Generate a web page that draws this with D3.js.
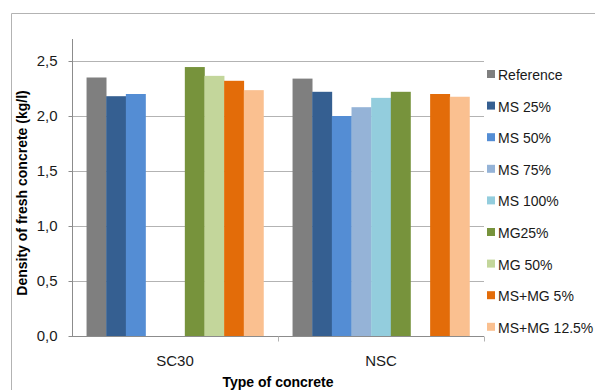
<!DOCTYPE html>
<html>
<head>
<meta charset="utf-8">
<script src="https://cdn.jsdelivr.net/npm/d3@7"></script>
<style>
  html, body { margin: 0; padding: 0; background: #fff; }
  svg { display: block; font-family: "Liberation Sans", Arial, sans-serif; }
</style>
</head>
<body>
<svg id="chart" width="595" height="390"></svg>
<script>
// Concrete types along the x axis
const categories = ["SC30", "NSC"];

// Mixes (one bar per mix in each concrete group)
const seriesNames = ["Reference", "MS 25%", "MS 50%", "MS 75%", "MS 100%", "MG25%", "MG 50%", "MS+MG 5%", "MS+MG 12.5%"];
const seriesColors = ["#7f7f7f", "#355f91", "#548dd4", "#95b3d7", "#93cddd", "#77933c", "#c3d69b", "#e36c09", "#fac090"];

// Fresh density in kg/l, per mix, for SC30 and NSC
const sc30Values = [2.35, 2.18, 2.20, 0, 0, 2.445, 2.365, 2.32, 2.235];
const nscValues  = [2.34, 2.22, 2.00, 2.08, 2.165, 2.22, 0, 2.20, 2.175];

const yTicks = [0, 0.5, 1.0, 1.5, 2.0, 2.5];
const yMax = 2.7;

const svg = d3.select("#chart");

// Outer chart frame
svg.append("path")
  .attr("d", "M11.5,390 L11.5,13.5 L595,13.5")
  .attr("fill", "none")
  .attr("stroke", "#b3b3b3")
  .attr("stroke-width", 1);

const plot = { left: 72, right: 484, top: 39, bottom: 336 };

const x0 = d3.scaleBand().domain(categories).range([plot.left, plot.right]).paddingInner(0).paddingOuter(0);
const x1 = d3.scaleBand().domain(seriesNames).range([0, x0.bandwidth()]).paddingOuter(0.74).paddingInner(0);
const y = d3.scaleLinear().domain([0, yMax]).range([plot.bottom, plot.top]);

const fmt = v => d3.format(".1f")(v).replace(".", ",");

// Horizontal gridlines
svg.append("g")
  .selectAll("line")
  .data(yTicks.filter(t => t > 0))
  .join("line")
  .attr("x1", plot.left).attr("x2", plot.right)
  .attr("y1", d => Math.round(y(d)) + 0.5).attr("y2", d => Math.round(y(d)) + 0.5)
  .attr("stroke", "#b3b3b3").attr("stroke-width", 1);

// Bars
const rows = categories.map((c, i) => ({ cat: c, vals: i === 0 ? sc30Values : nscValues }));
const groups = svg.append("g")
  .selectAll("g")
  .data(rows)
  .join("g")
  .attr("transform", d => `translate(${x0(d.cat)},0)`);

groups.selectAll("rect")
  .data(d => d.vals.map((v, j) => ({ name: seriesNames[j], value: v, color: seriesColors[j] })))
  .join("rect")
  .attr("x", d => x1(d.name))
  .attr("width", x1.bandwidth() + 0.3)
  .attr("y", d => y(d.value))
  .attr("height", d => y(0) - y(d.value))
  .attr("fill", d => d.color);

// Y axis
const yAxis = d3.axisLeft(y).tickValues(yTicks).tickFormat(fmt).tickSize(4).tickPadding(11);
const gy = svg.append("g")
  .attr("transform", `translate(${plot.left + 0.5},0)`)
  .call(yAxis);
gy.select(".domain").attr("stroke", "#8c8c8c").attr("d", `M-0,${plot.top}V${plot.bottom}`);
gy.selectAll(".tick line").attr("stroke", "#8c8c8c");
gy.selectAll(".tick text").attr("font-size", 15).attr("fill", "#1a1a1a")
  .attr("font-family", "'Liberation Sans', Arial, sans-serif");

// X axis
const gx = svg.append("g")
  .attr("transform", `translate(0,${plot.bottom + 0.5})`);
gx.append("line")
  .attr("x1", plot.left).attr("x2", plot.right)
  .attr("stroke", "#8c8c8c");
gx.selectAll("line.sep")
  .data([x0("NSC"), plot.right])
  .join("line")
  .attr("class", "sep")
  .attr("x1", d => Math.round(d) + 0.5).attr("x2", d => Math.round(d) + 0.5)
  .attr("y1", 0).attr("y2", 5)
  .attr("stroke", "#b3b3b3");
gx.selectAll("text")
  .data(categories)
  .join("text")
  .attr("x", d => x0(d) + x0.bandwidth() / 2)
  .attr("y", 29)
  .attr("text-anchor", "middle")
  .attr("font-size", 15)
  .attr("fill", "#1a1a1a")
  .text(d => d);

// Axis titles
svg.append("text")
  .attr("x", (plot.left + plot.right) / 2)
  .attr("y", 387)
  .attr("text-anchor", "middle")
  .attr("font-size", 14)
  .attr("font-weight", "bold")
  .attr("fill", "#000")
  .text("Type of concrete");

svg.append("text")
  .attr("transform", `translate(27,193) rotate(-90)`)
  .attr("text-anchor", "middle")
  .attr("font-size", 14)
  .attr("font-weight", "bold")
  .attr("fill", "#000")
  .text("Density of fresh concrete (kg/l)");

// Legend
const legend = svg.append("g")
  .selectAll("g")
  .data(seriesNames)
  .join("g")
  .attr("transform", (d, i) => `translate(487,${74 + i * 31.6})`);
legend.append("rect")
  .attr("x", 0).attr("y", -4).attr("width", 8).attr("height", 8)
  .attr("fill", (d, i) => seriesColors[i]);
legend.append("text")
  .attr("x", 11).attr("y", 6)
  .attr("font-size", 14)
  .attr("fill", "#1a1a1a")
  .text(d => d);
</script>
</body>
</html>
